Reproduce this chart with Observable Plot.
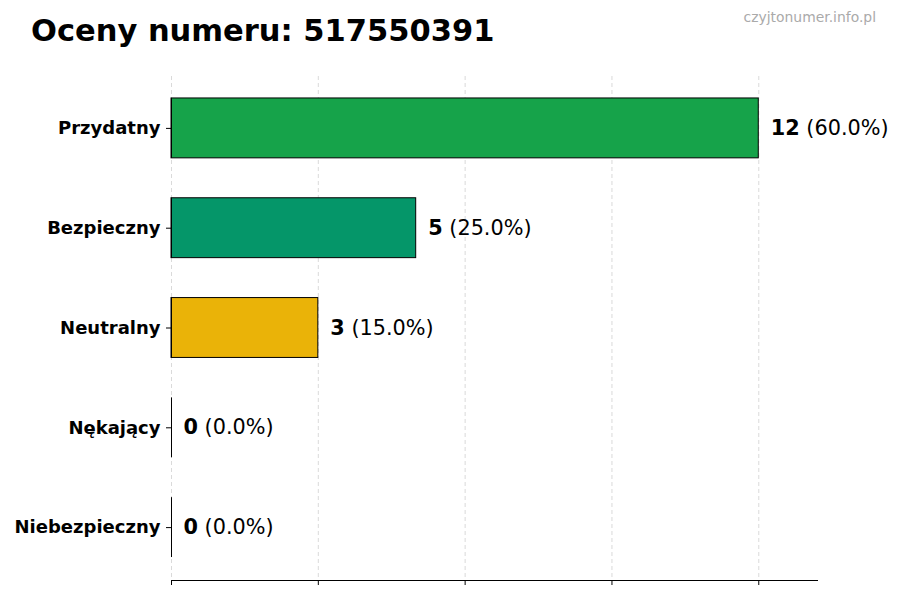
<!DOCTYPE html>
<html>
<head>
<meta charset="utf-8">
<script src="https://cdn.jsdelivr.net/npm/d3@7"></script>
<script src="https://cdn.jsdelivr.net/npm/@observablehq/plot@0.6"></script>
<style>
  html, body { margin: 0; padding: 0; background: #fff; }
  body { width: 900px; height: 600px; position: relative; overflow: hidden; font-family: "DejaVu Sans", sans-serif; }
  #title { position: absolute; left: 31px; top: 12px; font-size: 30.5px; font-weight: bold; color: #000; line-height: 38px; white-space: nowrap; }
  #wm { position: absolute; right: 24px; top: 9px; font-size: 13.9px; color: #aaaaaa; white-space: nowrap; }
  #chart { position: absolute; left: 0; top: 0; }
</style>
</head>
<body>
<div id="chart"></div>
<div id="title">Oceny numeru: 517550391</div>
<div id="wm">czyjtonumer.info.pl</div>
<script>
const categories = ["Przydatny", "Bezpieczny", "Neutralny", "Nękający", "Niebezpieczny"];
const counts = [12, 5, 3, 0, 0];
const percents = ["60.0%", "25.0%", "15.0%", "0.0%", "0.0%"];
const colors = ["#16a34a", "#059669", "#eab308", "#dc2626", "#991b1b"];
const xTicks = [0, 3, 6, 9, 12];

const data = categories.map((c, i) => ({category: c, count: counts[i], pct: percents[i], color: colors[i]}));

const chart = Plot.plot({
  width: 900,
  height: 600,
  marginLeft: 171,
  marginRight: 83,
  marginTop: 76,
  marginBottom: 20,
  style: {fontFamily: "DejaVu Sans, sans-serif", background: "#fff", color: "#000"},
  x: {domain: [0, 13.2], ticks: xTicks},
  y: {domain: categories, paddingInner: 0.4, paddingOuter: 0.2, insetTop: 2, insetBottom: 3, round: false, label: null},
  marks: [
    Plot.gridX(xTicks, {stroke: "#b0b0b0", strokeOpacity: 0.6, strokeDasharray: "4,3", strokeWidth: 0.8}),
    Plot.barX(data, {x: "count", y: "category", fill: "color", stroke: "#000", strokeWidth: 1}),
    Plot.tickX(data, {x: 0, y: "category", stroke: "#000", strokeWidth: 1}),
    Plot.axisX({ticks: xTicks, tickFormat: () => "", tickSize: 5, label: null, stroke: "#000"}),
    Plot.frame({anchor: "bottom", stroke: "#000", strokeWidth: 1}),
    Plot.axisY({tickSize: 5, tickPadding: 6, fontSize: 18, fontWeight: "bold", label: null, stroke: "#000"}),
    Plot.text(data, {x: "count", y: "category", text: d => d.count + "|" + d.pct, dx: 12, textAnchor: "start", fontSize: 20.8, fill: "#000", className: "vals"})
  ]
});

document.getElementById("chart").appendChild(chart);

// split value labels into bold count and normal percentage
chart.querySelectorAll("g.vals text").forEach(t => {
  const [n, p] = t.textContent.split("|");
  t.textContent = "";
  const a = document.createElementNS("http://www.w3.org/2000/svg", "tspan");
  a.setAttribute("font-weight", "bold");
  a.textContent = n;
  const b = document.createElementNS("http://www.w3.org/2000/svg", "tspan");
  b.textContent = " (" + p + ")";
  t.appendChild(a);
  t.appendChild(b);
});
</script>
</body>
</html>
